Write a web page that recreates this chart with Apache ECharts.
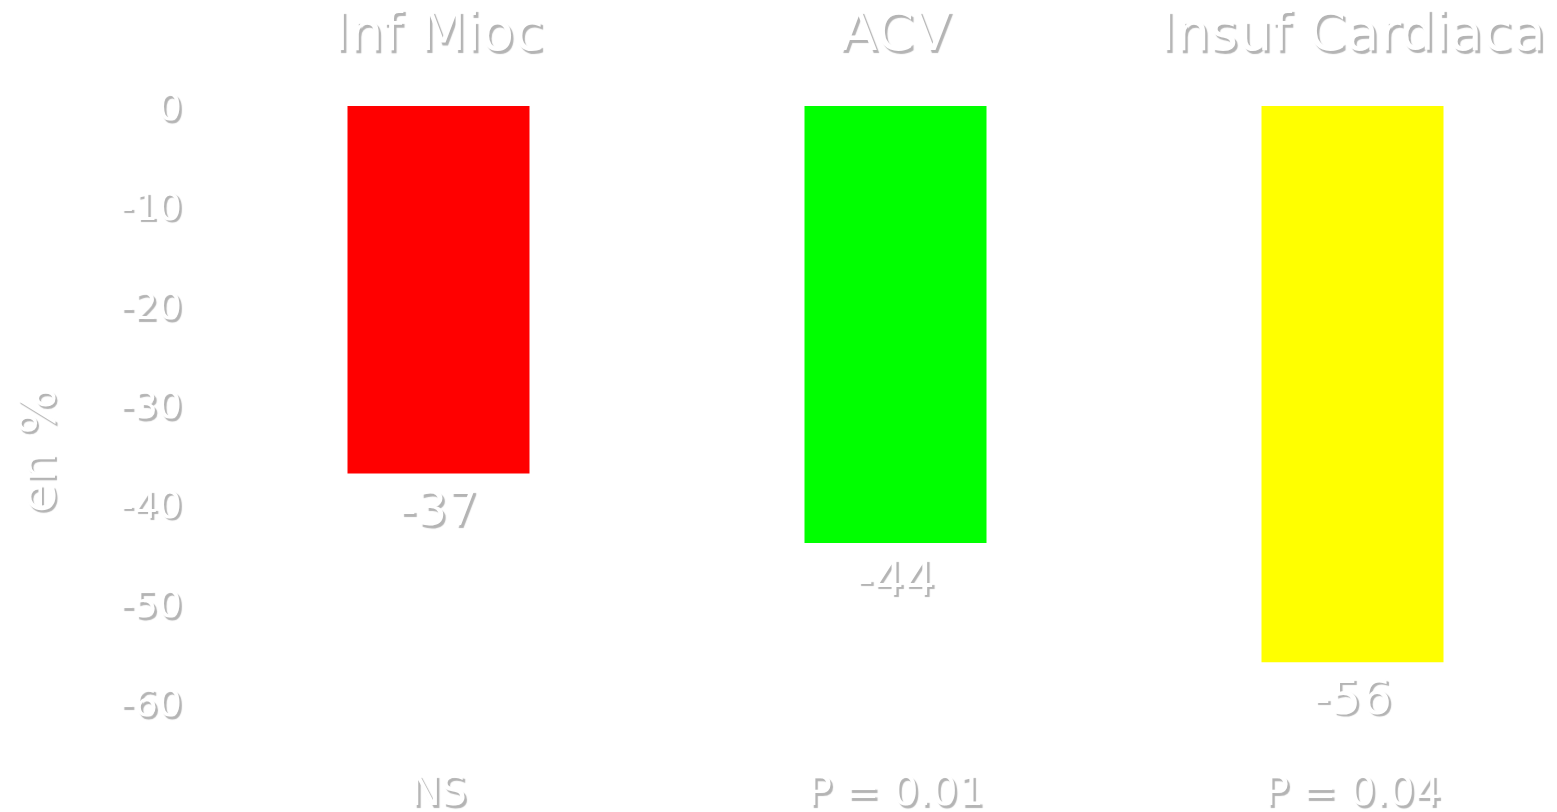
<!DOCTYPE html>
<html>
<head>
<meta charset="utf-8">
<script src="https://cdn.jsdelivr.net/npm/echarts@6/dist/echarts.min.js"></script>
<style>
  html, body { margin: 0; padding: 0; background: #ffffff; }
  #chart { width: 1557px; height: 812px; }
</style>
</head>
<body>
<div id="chart"></div>
<script>
// Reduction (%) per outcome
const categories = ['Inf Mioc', 'ACV', 'Insuf Cardiaca'];
const values = [-37, -44, -56];
const barColors = ['#ff0000', '#00ff00', '#ffff00'];
const pLabels = ['NS', 'P = 0.01', 'P = 0.04'];
const yTicks = { min: -60, max: 0, interval: 10 };
const yName = 'en %';

const FONT = 'DejaVu Sans';
const embossed = {
  color: '#ffffff',
  fontFamily: FONT,
  textShadowColor: '#b4b4b4',
  textShadowOffsetX: 2.5,
  textShadowOffsetY: 2.5,
  textShadowBlur: 1
};

const chart = echarts.init(document.getElementById('chart'), null, { renderer: 'canvas' });

chart.setOption({
  backgroundColor: '#ffffff',
  animation: false,
  grid: {
    left: 210, top: 106, width: 1371, height: 596,
    containLabel: false,
    outerBoundsMode: 'none'
  },
  xAxis: [
    {
      type: 'category',
      data: categories,
      position: 'top',
      axisLine: { show: false },
      axisTick: { show: false },
      axisLabel: Object.assign({ fontSize: 54, margin: 43, interval: 0 }, embossed)
    },
    {
      type: 'category',
      data: pLabels,
      position: 'bottom',
      axisLine: { show: false },
      axisTick: { show: false },
      axisLabel: Object.assign({ fontSize: 41, margin: 72, interval: 0 }, embossed)
    }
  ],
  yAxis: {
    type: 'value',
    min: yTicks.min,
    max: yTicks.max,
    interval: yTicks.interval,
    name: yName,
    nameLocation: 'middle',
    nameGap: 143,
    nameRotate: 90,
    nameTextStyle: Object.assign({ fontSize: 50, padding: [0, 92, 0, 0] }, embossed),
    axisLine: { show: false },
    axisTick: { show: false },
    splitLine: { show: false },
    axisLabel: Object.assign({
      fontSize: 38,
      margin: 28,
      formatter: '{v|{value}}',
      rich: { v: Object.assign({ fontSize: 38, padding: [9, 0, 0, 0] }, embossed) }
    }, embossed)
  },
  series: [{
    type: 'bar',
    xAxisIndex: 0,
    barWidth: 182,
    data: values.map((v, i) => ({ value: v, itemStyle: { color: barColors[i] } })),
    label: Object.assign({
      show: true,
      position: 'bottom',
      distance: 15,
      fontSize: 48
    }, embossed)
  }]
});
</script>
</body>
</html>
